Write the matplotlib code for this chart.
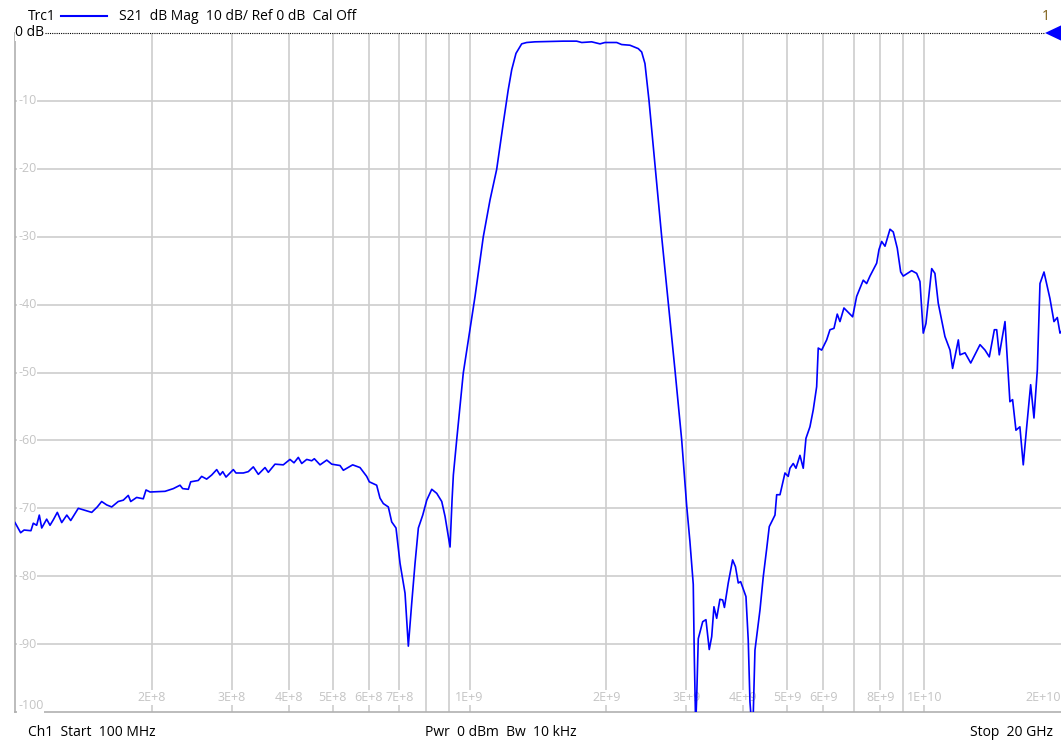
import matplotlib
matplotlib.use("Agg")
import matplotlib.pyplot as plt
from matplotlib.patches import Polygon

plt.rcParams["font.family"] = ["Open Sans", "DejaVu Sans"]

# ── S21 trace (frequency in MHz, magnitude in dB) ──
freq_mhz = [
    100, 102.9, 104.7, 108.4, 109.7, 111.6, 113.1, 114.5, 117.4, 119.4,
    121.4, 123.9, 126.7, 130.0, 132.6, 137.8, 142.6, 147.5, 151.7, 155.1,
    159.1, 163.2, 168.7, 173.1, 177.5, 179.7, 185.2, 191.5, 194.2, 198.2,
    213.8, 223.0, 230.7, 233.8, 240.6, 243.5, 253.0, 257.4, 264.0, 270.8,
    277.8, 282.5, 286.4, 291.2, 302.2, 306.3, 317.9, 326.0, 334.4, 343.0,
    354.8, 360.8, 373.2, 389.2, 402.6, 410.9, 420.0, 427.3, 438.3, 449.5,
    455.5, 468.8, 485.1, 497.5, 518.8, 527.6, 553.1, 574.1, 593.8, 601.8,
    624.6, 635.2, 646.0, 662.6, 674.0, 688.9, 703.1, 721.1, 733.3, 745.9,
    758.6, 771.5, 788.8, 805.0, 825.6, 846.8, 868.5, 883.2, 905.8, 915.0,
    921.1, 936.9, 968.5, 1002, 1028, 1072, 1109, 1147, 1186, 1216,
    1238, 1265, 1302, 1335, 1393, 1607, 1720, 1765, 1856, 1936,
    1985, 2107, 2160, 2253, 2350, 2391, 2431, 2481, 2562, 2646,
    2736, 2830, 2928, 3004, 3053, 3105, 3121, 3143, 3159, 3185,
    3257, 3311, 3367, 3409, 3448, 3496, 3554, 3604, 3636, 3707,
    3790, 3845, 3900, 3947, 4055, 4102, 4138, 4174, 4207, 4244,
    4353, 4426, 4503, 4563, 4697, 4738, 4818, 4941, 5023, 5067,
    5152, 5224, 5331, 5420, 5495, 5607, 5702, 5801, 5848, 5950,
    6103, 6206, 6333, 6439, 6528, 6661, 6961, 7103, 7224, 7345,
    7473, 7600, 7862, 7955, 8064, 8201, 8411, 8551, 8727, 8879,
    8995, 9387, 9627, 9789, 9954, 10090, 10390, 10560, 10740, 11110,
    11400, 11550, 11890, 11990, 12300, 12660, 13270, 13610, 13910, 14270,
    14440, 14630, 15060, 15440, 15650, 15920, 16240, 16520, 16810, 17150,
    17440, 17740, 17980, 18350, 18910, 19300, 19630, 19900, 20000,
]
s21_db = [
    -72.1, -73.6, -73.2, -73.3, -72.2, -72.5, -71.0, -72.9, -71.6, -72.5,
    -71.7, -70.6, -72.1, -71.0, -71.8, -70.0, -70.3, -70.6, -69.8, -69.0,
    -69.5, -69.8, -69.0, -68.8, -68.1, -69.0, -68.4, -68.6, -67.3, -67.6,
    -67.5, -67.1, -66.6, -67.1, -67.2, -66.1, -65.9, -65.3, -65.7, -65.1,
    -64.3, -65.1, -64.6, -65.4, -64.3, -64.8, -64.8, -64.6, -63.9, -65.0,
    -64.0, -64.7, -63.5, -63.6, -62.8, -63.3, -62.5, -63.4, -62.8, -63.0,
    -62.7, -63.6, -62.9, -63.5, -63.7, -64.4, -63.6, -64.0, -65.3, -66.1,
    -66.6, -68.5, -69.3, -69.8, -72.0, -72.9, -78.1, -82.5, -90.3, -84.0,
    -78.1, -72.9, -71.0, -68.8, -67.2, -67.8, -69.0, -71.2, -75.7, -68.8,
    -65.1, -59.9, -50.1, -43.7, -38.8, -30.0, -24.6, -20.1, -13.3, -8.4,
    -5.4, -3.0, -1.6, -1.4, -1.3, -1.2, -1.2, -1.4, -1.3, -1.6,
    -1.4, -1.4, -1.7, -1.8, -2.3, -2.8, -4.5, -9.9, -20.0, -30.0,
    -39.8, -49.6, -59.9, -69.7, -74.9, -81.2, -91.6, -102.0, -98.0, -89.2,
    -86.7, -86.4, -90.8, -88.9, -84.5, -86.2, -83.4, -83.5, -84.6, -81.0,
    -77.6, -78.6, -81.0, -80.8, -83.0, -89.4, -98.5, -102.0, -100.5, -90.9,
    -85.0, -80.1, -76.0, -72.7, -71.0, -68.0, -68.0, -64.8, -65.3, -64.1,
    -63.4, -64.1, -62.2, -64.1, -59.7, -58.0, -55.5, -52.1, -46.4, -46.7,
    -45.2, -43.7, -43.5, -41.4, -42.5, -40.5, -41.8, -38.8, -37.6, -36.4,
    -36.9, -35.8, -33.9, -31.9, -30.7, -31.4, -28.9, -29.3, -31.7, -35.2,
    -35.8, -35.0, -35.4, -36.6, -44.2, -42.8, -34.7, -35.4, -39.8, -44.7,
    -46.7, -49.4, -45.2, -47.4, -47.1, -48.6, -45.9, -46.7, -47.7, -43.7,
    -43.7, -47.4, -42.5, -54.3, -54.0, -58.5, -58.0, -63.6, -58.0, -51.8,
    -56.7, -49.6, -36.9, -35.2, -39.1, -42.5, -41.9, -44.2, -44.0,
]

# grid / labels
grid_freqs = [2e8, 3e8, 4e8, 5e8, 6e8, 7e8, 8e8, 9e8, 1e9,
              2e9, 3e9, 4e9, 5e9, 6e9, 7e9, 8e9, 9e9, 1e10]
xlabel_freqs = [2e8, 3e8, 4e8, 5e8, 6e8, 7e8, 1e9, 2e9, 3e9, 4e9, 5e9, 6e9, 8e9, 1e10, 2e10]
xlabel_text = ["2E+8", "3E+8", "4E+8", "5E+8", "6E+8", "7E+8", "1E+9", "2E+9",
               "3E+9", "4E+9", "5E+9", "6E+9", "8E+9", "1E+10", "2E+10"]
ygrid = [-10, -20, -30, -40, -50, -60, -70, -80, -90]
ylabel_vals = [-10, -20, -30, -40, -50, -60, -70, -80, -90, -100]

W, H = 1061, 743


def px(x, y):
    # pixel position (from top-left) -> figure fraction
    return x / W, 1 - y / H


fig = plt.figure(figsize=(W / 100, H / 100), dpi=100)
ax = fig.add_axes([15 / W, 31 / H, 1046 / W, 679 / H])

ax.set_xscale("log")
ax.set_xlim(1e8, 2e10)
ax.set_ylim(-100, 0)
ax.set_xticks(grid_freqs)
ax.set_xticks([], minor=True)
ax.set_yticks(ygrid)
ax.tick_params(length=0, labelbottom=False, labelleft=False)
ax.grid(True, color="#cdcdcd", linewidth=1.2)
ax.set_axisbelow(True)

for side in ["top", "right"]:
    ax.spines[side].set_visible(False)
for side in ["left", "bottom"]:
    ax.spines[side].set_color("#b0b0b0")
    ax.spines[side].set_linewidth(1.2)

lab_col = "#c4c4c4"
box = dict(facecolor="white", edgecolor="none", pad=0.6)
for f, t in zip(xlabel_freqs, xlabel_text):
    ha = "right" if f >= 2e10 else "center"
    xx = f * 0.998 if f >= 2e10 else f
    ax.text(xx, 0.021, t, transform=ax.get_xaxis_transform(), ha=ha, va="center",
            fontsize=9, color=lab_col, bbox=box, zorder=3)

for v in ylabel_vals:
    va = "bottom" if v == -100 else "center"
    ax.text(0.003, v, f"{v}", transform=ax.get_yaxis_transform(), ha="left", va=va,
            fontsize=9, color=lab_col, bbox=box, zorder=3)

# reference line (0 dB)
ax.axhline(0, xmin=30 / 1046, xmax=1030 / 1046, color="black",
           linestyle=(0, (1, 1)), linewidth=0.8, clip_on=False, zorder=3)

ax.plot([f * 1e6 for f in freq_mhz], s21_db, color="#0000ff", linewidth=1.2, zorder=4)

# header / footer
fs = 10
fig.text(*px(28, 16), "Trc1", fontsize=fs, va="center", ha="left")
fig.add_artist(plt.Line2D([61 / W, 107 / W], [1 - 16 / H, 1 - 16 / H],
                          color="#0000ff", linewidth=1.5))
fig.text(*px(119, 16), "S21  dB Mag  10 dB/ Ref 0 dB  Cal Off", fontsize=fs,
         va="center", ha="left")
fig.text(*px(15, 33), "0 dB", fontsize=fs, va="center", ha="left",
         bbox=dict(facecolor="white", edgecolor="none", pad=0.3))
fig.text(*px(1046, 16), "1", fontsize=fs, va="center", ha="center", color="#7a5a10")
fig.add_artist(Polygon([px(1045, 33), px(1064, 24), px(1064, 42)], closed=True,
                       transform=fig.transFigure, facecolor="#0000ff",
                       edgecolor="none", clip_on=False))

fig.text(*px(28, 732), "Ch1  Start  100 MHz", fontsize=fs, va="center", ha="left")
fig.text(*px(425, 732), "Pwr  0 dBm  Bw  10 kHz", fontsize=fs, va="center", ha="left")
fig.text(*px(1053, 732), "Stop  20 GHz", fontsize=fs, va="center", ha="right")

fig.savefig("out.png", dpi=100)
